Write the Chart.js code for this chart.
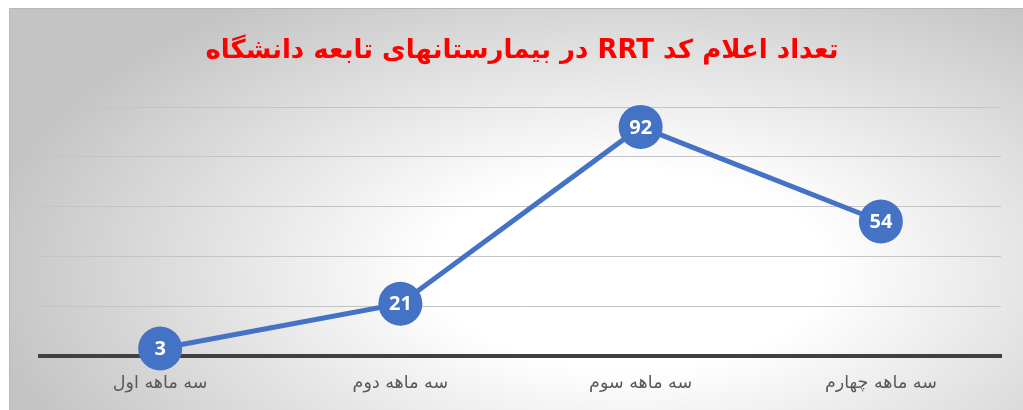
<!DOCTYPE html>
<html>
<head>
<meta charset="utf-8">
<script src="https://cdn.jsdelivr.net/npm/chart.js@4.4.1/dist/chart.umd.min.js"></script>
<style>
  html,body{ margin:0; padding:0; background:#fff; }
  #wrap{ width:1023px; height:410px; }
</style>
</head>
<body>
<div id="wrap"><canvas id="rrtChart" dir="rtl"></canvas></div>
<script>
const chartTitle = 'تعداد اعلام کد RRT در بیمارستانهای تابعه دانشگاه';
const quarters = ['سه ماهه اول', 'سه ماهه دوم', 'سه ماهه سوم', 'سه ماهه چهارم'];
const rrtCalls = [3, 21, 92, 54];
const yMin = 0;
const yMax = 100;
const yStep = 20;

// frame with a soft radial fill, like the office chart
const framePlugin = {
  id:'frame',
  beforeDraw(chart){
    const ctx = chart.ctx;
    const x0 = 9, y0 = 8, w = chart.width - x0, h = chart.height - y0;
    ctx.save();
    ctx.beginPath();
    ctx.rect(x0, y0, w, h);
    ctx.clip();
    const cx = 630, cy = 270, rx = 650, ry = 330;
    ctx.translate(cx, cy);
    ctx.scale(1, ry/rx);
    const g = ctx.createRadialGradient(0, 0, 0, 0, 0, rx);
    g.addColorStop(0, '#ffffff');
    g.addColorStop(0.3, '#ffffff');
    g.addColorStop(1, '#c4c4c4');
    ctx.fillStyle = g;
    ctx.fillRect(-cx - 10, -cy*rx/ry - 10, chart.width + 20, chart.height*rx/ry + 20);
    ctx.restore();
    ctx.save();
    ctx.strokeStyle = '#b8b8b8';
    ctx.lineWidth = 1;
    ctx.beginPath();
    ctx.moveTo(x0 + 0.5, chart.height);
    ctx.lineTo(x0 + 0.5, y0 + 0.5);
    ctx.lineTo(chart.width, y0 + 0.5);
    ctx.stroke();
    ctx.restore();
  },
  afterDraw(chart){
    // value labels inside the markers
    const ctx = chart.ctx;
    const meta = chart.getDatasetMeta(0);
    ctx.save();
    ctx.fillStyle = '#ffffff';
    ctx.font = 'bold 20px "Open Sans", sans-serif';
    ctx.textAlign = 'center';
    ctx.textBaseline = 'middle';
    ctx.direction = 'ltr';
    meta.data.forEach((pt, i) => {
      ctx.fillText(String(rrtCalls[i]), pt.x, pt.y + 1);
    });
    // title
    ctx.fillStyle = '#ff0000';
    ctx.font = 'bold 26px "DejaVu Sans", sans-serif';
    ctx.direction = 'rtl';
    ctx.fillText(chartTitle, 522, 51);
    ctx.restore();
  }
};

new Chart(document.getElementById('rrtChart'), {
  type:'line',
  data:{
    labels: quarters,
    datasets:[{
      data: rrtCalls,
      borderColor:'#4472c4',
      backgroundColor:'#4472c4',
      borderWidth:5,
      pointRadius:22,
      pointHoverRadius:22,
      pointBackgroundColor:'#4472c4',
      pointBorderWidth:0,
      tension:0,
      clip:false
    }]
  },
  options:{
    responsive:true,
    maintainAspectRatio:false,
    animation:false,
    events:[],
    layout:{ padding:{ left:40, right:12, top:107, bottom:0 } },
    plugins:{
      legend:{ display:false },
      title:{ display:false },
      tooltip:{ enabled:false }
    },
    scales:{
      x:{
        offset:true,
        grid:{ display:false, drawTicks:false },
        border:{ display:true, color:'#404040', width:4 },
        ticks:{
          color:'#595959',
          font:{ family:'"DejaVu Sans", sans-serif', size:17.5 },
          padding:17
        },
        afterFit(scale){ scale.height = 54; }
      },
      y:{
        min:yMin,
        max:yMax,
        ticks:{ display:false, stepSize:yStep },
        grid:{ color:'#c4c4c4', lineWidth:1, drawTicks:false },
        border:{ display:false },
        afterFit(scale){ scale.width = 0; }
      }
    }
  },
  plugins:[framePlugin]
});
</script>
</body>
</html>
